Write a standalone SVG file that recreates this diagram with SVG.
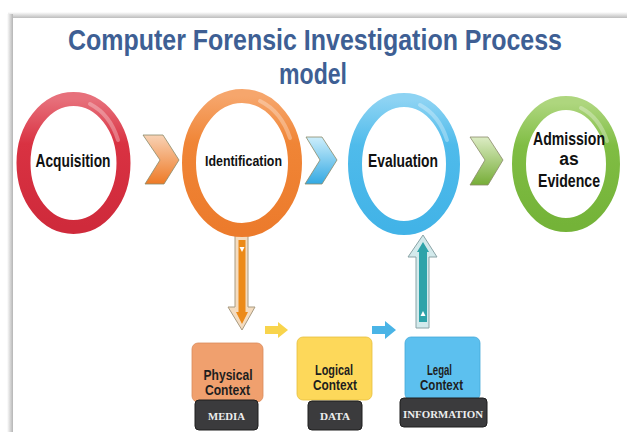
<svg xmlns="http://www.w3.org/2000/svg" width="627" height="432" viewBox="0 0 627 432">
<defs>
<linearGradient id="gRed" x1="0" y1="0" x2="0" y2="1"><stop offset="0" stop-color="#e7707b"/><stop offset="0.35" stop-color="#d93242"/><stop offset="1" stop-color="#cf2a3b"/></linearGradient>
<linearGradient id="gOrange" x1="0" y1="0" x2="0" y2="1"><stop offset="0" stop-color="#f6a66c"/><stop offset="0.35" stop-color="#f08536"/><stop offset="1" stop-color="#ec7b2c"/></linearGradient>
<linearGradient id="gBlue" x1="0" y1="0" x2="0" y2="1"><stop offset="0" stop-color="#8dd3f3"/><stop offset="0.35" stop-color="#4fbbeb"/><stop offset="1" stop-color="#42b3e7"/></linearGradient>
<linearGradient id="gGreen" x1="0" y1="0" x2="0" y2="1"><stop offset="0" stop-color="#aed67e"/><stop offset="0.35" stop-color="#80bd44"/><stop offset="1" stop-color="#74b338"/></linearGradient>
<linearGradient id="cOrange" x1="0" y1="0" x2="0" y2="1"><stop offset="0" stop-color="#f8d2b5"/><stop offset="1" stop-color="#ee7a26"/></linearGradient>
<linearGradient id="cBlue" x1="0" y1="0" x2="0" y2="1"><stop offset="0" stop-color="#cdeefb"/><stop offset="1" stop-color="#33a9e3"/></linearGradient>
<linearGradient id="cGreen" x1="0" y1="0" x2="0" y2="1"><stop offset="0" stop-color="#dcecc4"/><stop offset="1" stop-color="#76ad37"/></linearGradient>
<linearGradient id="shTop" x1="0" y1="0" x2="0" y2="1"><stop offset="0" stop-color="#ffffff"/><stop offset="1" stop-color="#bdbdbd"/></linearGradient>
<linearGradient id="shLeft" x1="0" y1="0" x2="1" y2="0"><stop offset="0" stop-color="#ffffff"/><stop offset="1" stop-color="#b5b5b5"/></linearGradient>
</defs>
<style>
.ring{fill:#ffffff;stroke-width:14}
.hl{fill:none;stroke:#ffffff;stroke-opacity:0.3;stroke-width:4;stroke-linecap:round}
.lbl{font-family:"Liberation Sans",Arial,sans-serif;font-weight:bold;fill:#111111;text-anchor:middle}
.title{font-family:"Liberation Sans",Arial,sans-serif;font-weight:bold;fill:#3e5f94;text-anchor:middle;font-size:30px}
.ctx{font-family:"Liberation Sans",Arial,sans-serif;font-weight:bold;fill:#1e1e1e;text-anchor:middle;font-size:14.5px}
.tag{fill:#3b3b3d;stroke:#1f1f1f;stroke-width:1}
.tagt{font-family:"Liberation Serif","Times New Roman",serif;font-weight:bold;fill:#eeeeee;text-anchor:middle;font-size:11px}
.chev{stroke:#8a8a6a;stroke-width:0.8}
</style>
<rect x="0" y="0" width="627" height="432" fill="#ffffff"/>
<rect x="8" y="12" width="619" height="6" fill="url(#shTop)"/>
<rect x="7" y="14" width="6" height="418" fill="url(#shLeft)"/>
<rect x="13" y="18" width="614" height="414" fill="#ffffff"/>

<g id="title">
<text class="title" x="315" y="50" textLength="494" lengthAdjust="spacingAndGlyphs">Computer Forensic Investigation Process</text>
<text class="title" x="313" y="84" textLength="68" lengthAdjust="spacingAndGlyphs">model</text>
</g>

<g id="connectors">
<path class="chev" d="M143,135 L163,135 L179,160 L164,184 L145,184 L160,160 Z" fill="url(#cOrange)"/>
<path class="chev" d="M306,137 L322,137 L337,160 L322,184 L305,184 L320,160 Z" fill="url(#cBlue)"/>
<path class="chev" d="M470,137 L488,137 L503,160 L488,185 L470,185 L485,160 Z" fill="url(#cGreen)"/>
<g id="down-arrow">
<path d="M235,234 L248,234 L248,307 L255,307 L242,330 L228,307 L235,307 Z" fill="#f4dcc0" stroke="#a89a80" stroke-width="1"/>
<path d="M238.5,240 L245.5,240 L245.5,312 L248,312 L242,324 L236,312 L238.5,312 Z" fill="#ec8a18"/>
<path d="M239.5,247 L244.5,247 L242,252 Z" fill="#ffffff"/>
</g>
<g id="up-arrow">
<path d="M423,235 L437,257 L429,257 L429,328 L416,328 L416,257 L408,257 Z" fill="#d3eaec" stroke="#8aa3a6" stroke-width="1"/>
<path d="M423,242 L429,252 L427,252 L427,322 L419,322 L419,252 L417,252 Z" fill="#2ea3a9"/>
<path d="M420.5,316 L425.5,316 L423,311 Z" fill="#ffffff"/>
</g>
<path d="M265,326 L278,326 L278,322 L288,330 L278,338 L278,334 L265,334 Z" fill="#f8d44c"/>
<path d="M372,326 L385,326 L385,321 L396,330 L385,339 L385,334 L372,334 Z" fill="#4ab4e6"/>
</g>

<g id="acquisition">
<ellipse class="ring" cx="73.5" cy="163" rx="50" ry="64" stroke="url(#gRed)"/>
<path class="hl" d="M90,104 A50,64 0 0 1 118,140"/>
<text class="lbl" x="73" y="167" font-size="18.5" textLength="75" lengthAdjust="spacingAndGlyphs">Acquisition</text>
</g>

<g id="identification">
<ellipse class="ring" cx="242" cy="163" rx="53" ry="67" stroke="url(#gOrange)"/>
<path class="hl" d="M260,101 A53,67 0 0 1 290,138"/>
<text class="lbl" x="243.5" y="166" font-size="15" textLength="77" lengthAdjust="spacingAndGlyphs">Identification</text>
</g>

<g id="evaluation">
<ellipse class="ring" cx="404" cy="164" rx="49" ry="64" stroke="url(#gBlue)"/>
<path class="hl" d="M420,105 A49,64 0 0 1 447,140"/>
<text class="lbl" x="403" y="167" font-size="18.5" textLength="70" lengthAdjust="spacingAndGlyphs">Evaluation</text>
</g>

<g id="admission">
<ellipse class="ring" cx="566" cy="164" rx="47" ry="61" stroke="url(#gGreen)"/>
<path class="hl" d="M581,108 A47,61 0 0 1 607,141"/>
<text class="lbl" x="569" y="145" font-size="17.5" textLength="72" lengthAdjust="spacingAndGlyphs">Admission</text>
<text class="lbl" x="569" y="165" font-size="17.5">as</text>
<text class="lbl" x="569" y="187" font-size="17.5" textLength="62" lengthAdjust="spacingAndGlyphs">Evidence</text>
</g>

<g id="physical">
<rect x="192" y="343" width="71" height="59" rx="6" fill="#f0a06e" stroke="#d98a5a" stroke-width="0.8"/>
<text class="ctx" x="228" y="380" textLength="49" lengthAdjust="spacingAndGlyphs">Physical</text>
<text class="ctx" x="227.5" y="395" textLength="45" lengthAdjust="spacingAndGlyphs">Context</text>
<rect class="tag" x="195" y="400" width="63" height="30" rx="4"/>
<text class="tagt" x="226.5" y="420" textLength="37" lengthAdjust="spacingAndGlyphs">MEDIA</text>
</g>

<g id="logical">
<rect x="297" y="337" width="75" height="63" rx="6" fill="#fdd85a" stroke="#e6bf3e" stroke-width="0.8"/>
<text class="ctx" x="334" y="375" textLength="38" lengthAdjust="spacingAndGlyphs">Logical</text>
<text class="ctx" x="335" y="390" textLength="44" lengthAdjust="spacingAndGlyphs">Context</text>
<rect class="tag" x="308" y="401" width="54" height="29" rx="4"/>
<text class="tagt" x="335" y="420" textLength="30" lengthAdjust="spacingAndGlyphs">DATA</text>
</g>

<g id="legal">
<rect x="405" y="337" width="75" height="63" rx="6" fill="#5cc0ef" stroke="#45a8d8" stroke-width="0.8"/>
<text class="ctx" x="439.5" y="375" textLength="25" lengthAdjust="spacingAndGlyphs">Legal</text>
<text class="ctx" x="441.5" y="390" textLength="43" lengthAdjust="spacingAndGlyphs">Context</text>
<rect class="tag" x="400" y="398" width="87" height="29" rx="4"/>
<text class="tagt" x="443" y="418" textLength="80" lengthAdjust="spacingAndGlyphs">INFORMATION</text>
</g>
</svg>
